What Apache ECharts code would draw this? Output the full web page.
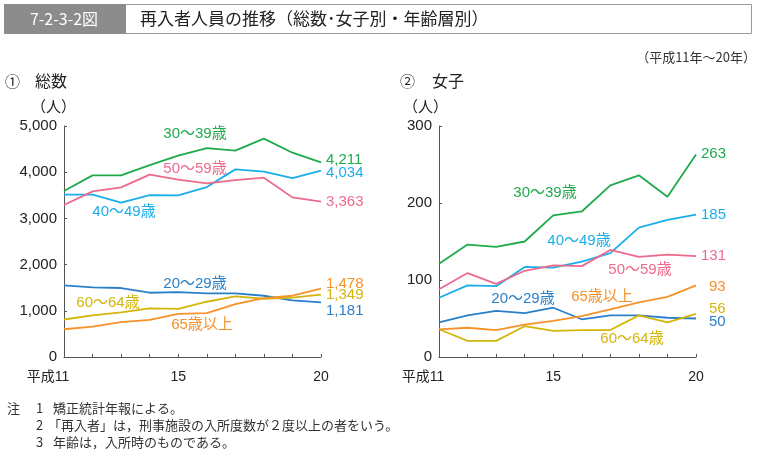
<!DOCTYPE html>
<html><head><meta charset="utf-8">
<script src="https://cdn.jsdelivr.net/npm/echarts@6/dist/echarts.min.js"></script>
<style>html,body{margin:0;padding:0;background:#fff}#c{width:759px;height:455px}</style>
</head><body><div id="c"></div>
<script>
const years = ['11','12','13','14','15','16','17','18','19','20'];
const xTickLabels = ['平成11','','','','15','','','','','20'];
const leftTicks = [0,1000,2000,3000,4000,5000];
const rightTicks = [0,100,200,300];

// ① 総数
const total20 = [1551,1507,1493,1391,1406,1377,1377,1326,1225,1181];
const total30 = [3592,3931,3931,4155,4357,4523,4466,4726,4422,4211];
const total40 = [3513,3513,3339,3505,3498,3679,4061,4011,3874,4034];
const total50 = [3289,3585,3671,3946,3838,3758,3830,3881,3455,3363];
const total60 = [812,899,964,1051,1043,1196,1312,1261,1283,1349];
const total65 = [601,659,754,804,935,949,1145,1275,1326,1478];

// ② 女子
const female20 = [45,54,60,57,64,49,54,54,51,50];
const female30 = [121,146,143,150,184,189,223,236,208,263];
const female40 = [77,93,92,117,116,124,135,168,178,185];
const female50 = [88,109,95,112,119,118,139,130,133,131];
const female60 = [36,21,21,40,34,35,35,54,45,56];
const female65 = [36,38,35,42,47,53,62,71,78,93];

const names = ['20～29歳','30～39歳','40～49歳','50～59歳','60～64歳','65歳以上'];
const colors = ['#2a80c8','#1faa4c','#1aaee8','#ee6a8c','#d4b50c','#f5922a'];

const FONT = '"Liberation Sans","Noto Sans CJK JP",sans-serif';
const JP = '"Noto Sans CJK JP",sans-serif';

function xAxis(gi){
  return {
    type:'category', gridIndex:gi, data:years, boundaryGap:false,
    axisLine:{lineStyle:{color:'#555',width:1}},
    axisTick:{inside:true,length:3,interval:0,lineStyle:{color:'#555'}},
    axisLabel:{
      interval:0, margin:13, color:'#222', fontFamily:FONT, fontSize:14,
      formatter:(v,i)=> i===0 ? '{f|'+xTickLabels[i]+'}' : xTickLabels[i],
      rich:{f:{fontFamily:FONT,fontSize:14,color:'#222',padding:[0,32,0,0]}}
    }
  };
}
function yAxis(gi,ticks){
  return {
    type:'value', gridIndex:gi, min:ticks[0], max:ticks[ticks.length-1], interval:ticks[1]-ticks[0],
    axisLine:{show:true,lineStyle:{color:'#555',width:1}},
    axisTick:{show:true,inside:true,length:3,lineStyle:{color:'#555'}},
    splitLine:{show:false},
    axisLabel:{color:'#222',fontFamily:FONT,fontSize:15,margin:7,
      formatter:v=>v.toLocaleString('en-US')}
  };
}
function line(gi,data,ci,off){
  return {
    type:'line', xAxisIndex:gi, yAxisIndex:gi, data:data, name:names[ci],
    symbol:'none', smooth:false, silent:true,
    lineStyle:{color:colors[ci],width:1.8},
    endLabel:{show:true,distance:5,offset:off,color:colors[ci],fontFamily:FONT,fontSize:15,
      formatter:p=>Number(p.value).toLocaleString('en-US')}
  };
}
function txt(x,y,t,color,size,extra){
  return {type:'text',x:x,y:y,style:Object.assign({text:t,fill:color,font:size+'px '+FONT,textVerticalAlign:'middle'},extra||{})};
}

const chart = echarts.init(document.getElementById('c'),null,{renderer:'canvas'});
chart.setOption({
  animation:false,
  grid:[
    {left:64,right:438,top:126,bottom:98},
    {left:439,right:63,top:126,bottom:98}
  ],
  xAxis:[xAxis(0),xAxis(1)],
  yAxis:[yAxis(0,leftTicks),yAxis(1,rightTicks)],
  series:[
    line(0,total20,0,[0,8]),
    line(0,total30,1,[0,-3]),
    line(0,total40,2,[0,2]),
    line(0,total50,3,[0,0]),
    line(0,total60,4,[0,0]),
    line(0,total65,5,[0,-5]),
    line(1,female20,0,[8,3]),
    line(1,female30,1,[0,-1]),
    line(1,female40,2,[0,0]),
    line(1,female50,3,[0,0]),
    line(1,female60,4,[8,-5]),
    line(1,female65,5,[8,1])
  ],
  graphic:[
    {type:'rect',shape:{x:4.5,y:4.5,width:747,height:29},style:{fill:'#fff',stroke:'#9a9a9a',lineWidth:1}},
    {type:'rect',shape:{x:4.5,y:4.5,width:121,height:29},style:{fill:'#8c8c8c',stroke:'#8c8c8c',lineWidth:1}},
    txt(64,19,'7-2-3-2図','#fff',16,{textAlign:'center',font:'16px '+JP}),
    txt(140,19,'再入者人員の推移（総数･女子別・年齢層別）','#222',17,{font:'17px '+JP}),
    txt(756,57,'（平成11年～20年）','#333',13,{textAlign:'right',font:'13px '+JP}),
    txt(5,81,'①','#222',15,{font:'15px '+JP}),
    txt(35,81,'総数','#222',16,{font:'16px '+JP}),
    txt(31,106,'（人）','#222',15,{font:'15px '+JP}),
    txt(400,81,'②','#222',15,{font:'15px '+JP}),
    txt(432,81,'女子','#222',16,{font:'16px '+JP}),
    txt(403,106,'（人）','#222',15,{font:'15px '+JP}),
    // left labels
    txt(195,134,'30～39歳',colors[1],15,{textAlign:'center'}),
    txt(195,169,'50～59歳',colors[3],15,{textAlign:'center'}),
    txt(124,212,'40～49歳',colors[2],15,{textAlign:'center'}),
    txt(195,284,'20～29歳',colors[0],15,{textAlign:'center'}),
    txt(108,303,'60～64歳',colors[4],15,{textAlign:'center'}),
    txt(202,325,'65歳以上',colors[5],15,{textAlign:'center'}),
    // right labels
    txt(545,193,'30～39歳',colors[1],15,{textAlign:'center'}),
    txt(579,241,'40～49歳',colors[2],15,{textAlign:'center'}),
    txt(640,270,'50～59歳',colors[3],15,{textAlign:'center'}),
    txt(523,299,'20～29歳',colors[0],15,{textAlign:'center'}),
    txt(602,297,'65歳以上',colors[5],15,{textAlign:'center'}),
    txt(632,339,'60～64歳',colors[4],15,{textAlign:'center'}),
    // notes
    txt(7,408,'注','#333',13,{font:'13px '+JP}),
    txt(36,408,'1','#333',13,{font:'13px '+JP}),
    txt(53,408,'矯正統計年報による。','#333',13,{font:'13px '+JP}),
    txt(36,425,'2','#333',13,{font:'13px '+JP}),
    txt(48,425,'「再入者」は，刑事施設の入所度数が２度以上の者をいう。','#333',13,{font:'13px '+JP}),
    txt(36,442,'3','#333',13,{font:'13px '+JP}),
    txt(53,442,'年齢は，入所時のものである。','#333',13,{font:'13px '+JP})
  ]
});
</script></body></html>
